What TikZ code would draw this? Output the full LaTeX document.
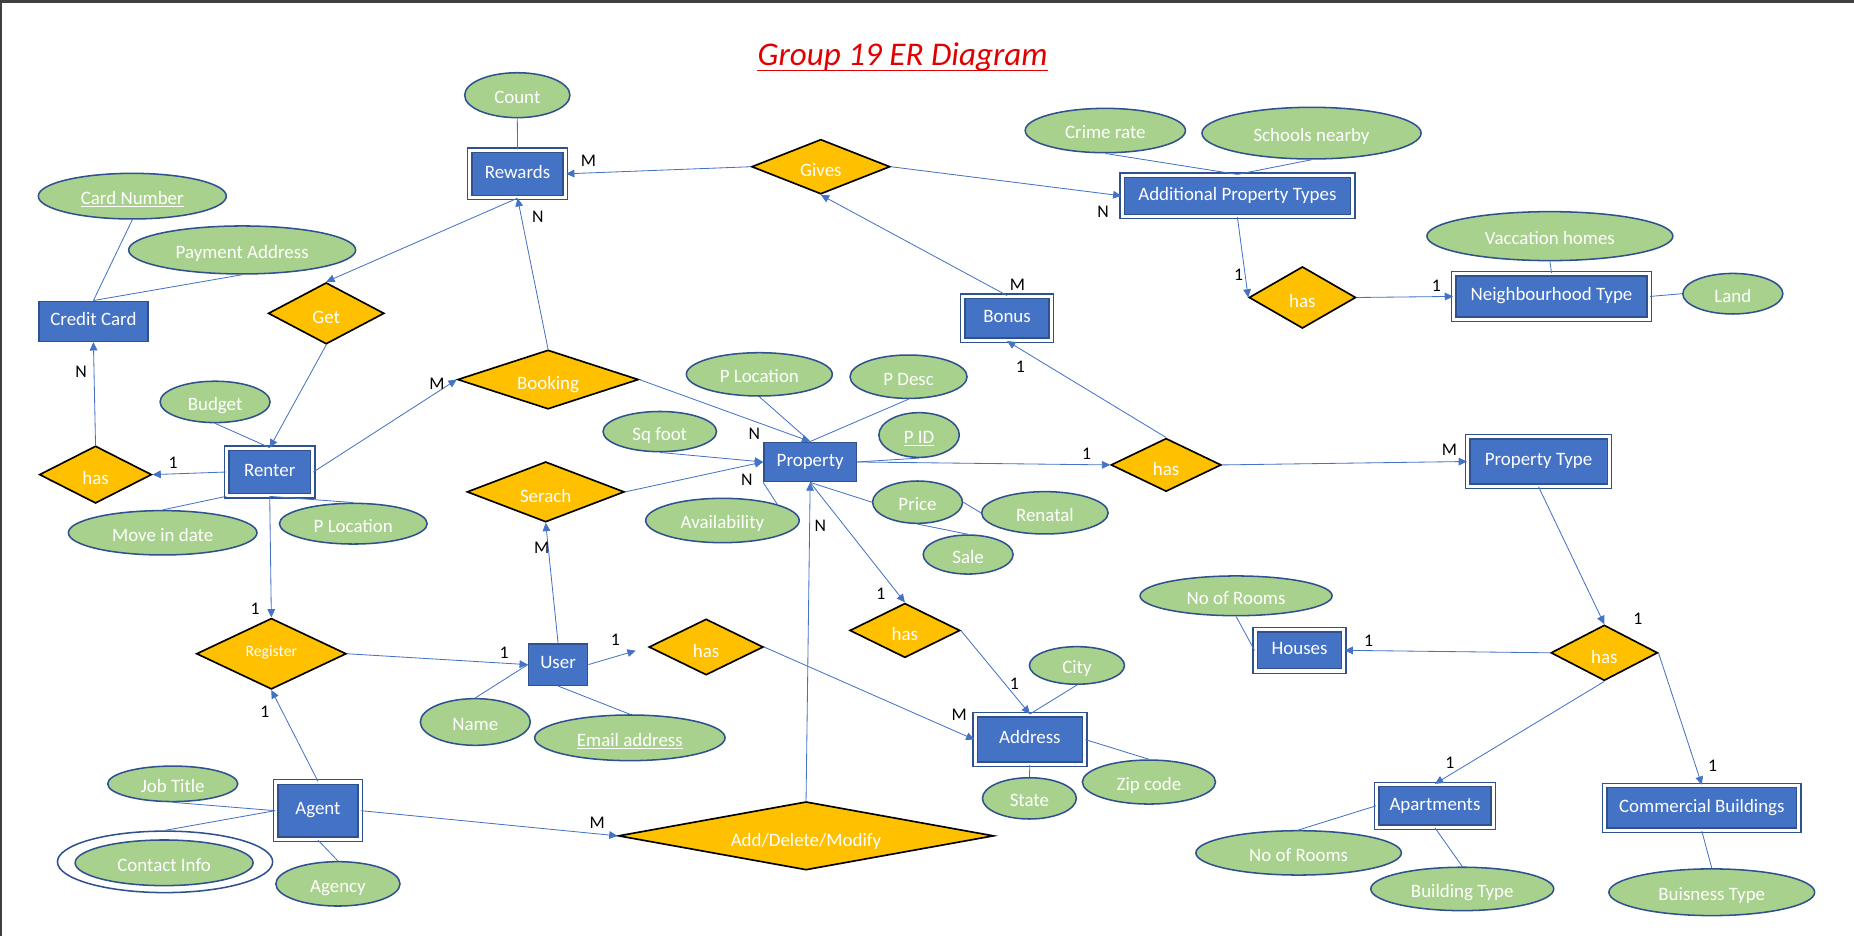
\documentclass[tikz,border=0pt]{standalone}
\usepackage{fontspec}
\setmainfont{Carlito}
\usetikzlibrary{shapes.geometric,arrows.meta}

\definecolor{entblue}{HTML}{4472C4}
\definecolor{edgeblue}{HTML}{2F528F}
\definecolor{attrgreen}{HTML}{A9D18E}
\definecolor{relgold}{HTML}{FFC000}
\definecolor{titlered}{HTML}{E00000}

\begin{document}
\begin{tikzpicture}[x=1pt,y=-1pt,
  entity/.style={rectangle, fill=entblue, draw=edgeblue, line width=1.2pt, text=white, inner sep=1pt, text height=10.3pt, text depth=3pt, font=\fontsize{16}{19}\selectfont},
  weak/.style={entity, double=white, double distance=2.6pt},
  attr/.style={ellipse, fill=attrgreen, draw=edgeblue, line width=1.3pt, text=white, inner sep=1pt, text height=14.3pt, text depth=0pt, font=\fontsize{16}{19}\selectfont},
  rel/.style={diamond, aspect=2.5, fill=relgold, draw=black, line width=1.4pt, text=white, inner sep=0pt, text height=17.3pt, text depth=0pt, font=\fontsize{16}{19}\selectfont},
  link/.style={draw=entblue, line width=0.7pt},
  arr/.style={link, -{Triangle[length=7pt,width=6.5pt]}},
  card/.style={font=\fontsize{15}{18}\selectfont, inner sep=0pt}
]

\useasboundingbox (0,0) rectangle (1568,792);

% Sheet edges
\fill[black!75] (0,0) rectangle (1568,2.4);
\fill[black!75] (0,0) rectangle (1.4,792);

% Title
\node[text=titlered, inner sep=0pt, anchor=base, font=\fontsize{28}{32}\selectfont\itshape] (title) at (763.4,55.5) {Group 19 ER Diagram};
\draw[titlered, line width=1.2pt] ([yshift=-4pt]title.base west) -- ([yshift=-4pt]title.base east);

% Entities
\node[weak, minimum width=81pt, minimum height=40pt] (rew) at (437.7,147) {Rewards};
\node[entity, minimum width=92pt, minimum height=34pt] (cc) at (79,271.8) {Credit Card};
\node[weak, minimum width=72.6pt, minimum height=40pt] (rent) at (228.1,399.2) {Renter};
\node[entity, minimum width=50pt, minimum height=35pt] (usr) at (472,562.1) {User};
\node[weak, minimum width=71.3pt, minimum height=48.5pt] (agt) at (268.9,685.6) {Agent};
\node[entity, minimum width=78.4pt, minimum height=33.4pt] (prop) at (685.2,390.7) {Property};
\node[weak, minimum width=74.6pt, minimum height=37.3pt] (bon) at (851.7,269.2) {Bonus};
\node[weak, minimum width=195pt, minimum height=35pt] (addl) at (1046.5,165.6) {Additional Property Types};
\node[weak, minimum width=165.5pt, minimum height=38.7pt] (nbh) at (1312.2,250.7) {Neighbourhood Type};
\node[weak, minimum width=120pt, minimum height=41.6pt] (ptype) at (1301.2,390.3) {Property Type};
\node[weak, minimum width=75pt, minimum height=35pt] (hous) at (1099.1,550) {Houses};
\node[weak, minimum width=92.7pt, minimum height=42pt] (addr) at (871,625.5) {Address};
\node[weak, minimum width=98.5pt, minimum height=36pt] (apt) at (1213.6,681.5) {Apartments};
\node[weak, minimum width=164pt, minimum height=38pt] (comm) at (1439.3,683.3) {Commercial Buildings};

% Relationships
\node[rel, minimum width=117pt, minimum height=46.3pt] (gives) at (694.2,141) {Gives};
\node[rel, minimum width=98pt, minimum height=52pt] (get) at (275.9,265) {Get};
\node[rel, minimum width=153pt, minimum height=50pt] (book) at (463.5,321) {Booking};
\node[rel, minimum width=95pt, minimum height=48.5pt] (hasc) at (80.8,401.4) {has};
\node[rel, minimum width=133pt, minimum height=51pt] (srch) at (461.5,416) {Serach};
\node[rel, minimum width=126.7pt, minimum height=60pt, text height=7.6pt, text depth=3pt, font=\fontsize{13.3}{16}\selectfont] (reg) at (229.5,552.9) {Register};
\node[rel, minimum width=96.7pt, minimum height=47.4pt] (hasu) at (597.2,547.2) {has};
\node[rel, aspect=5, minimum width=317.5pt, minimum height=57.8pt] (adm) at (681.7,706.9) {Add/Delete/Modify};
\node[rel, minimum width=93.2pt, minimum height=46pt] (hasa) at (765.3,533.2) {has};
\node[rel, minimum width=93.2pt, minimum height=45pt] (hasb) at (986.2,393.2) {has};
\node[rel, minimum width=90.3pt, minimum height=52.2pt] (hasn) at (1101.5,251.6) {has};
\node[rel, minimum width=90.2pt, minimum height=47pt] (hast) at (1356.8,552.1) {has};

% Attributes
\node[attr, minimum width=89pt, minimum height=38pt] (cnt) at (437.5,80.5) {Count};
\node[attr, minimum width=159pt, minimum height=38.6pt] (cnum) at (111.9,165.9) {\underline{Card Number}};
\node[attr, minimum width=192pt, minimum height=40.6pt] (pay) at (204.8,211.4) {Payment Address};
\node[attr, minimum width=93pt, minimum height=35pt] (bud) at (181.9,339.9) {Budget};
\node[attr, minimum width=159.5pt, minimum height=37.5pt] (mvd) at (137.6,450.6) {Move in date};
\node[attr, minimum width=125pt, minimum height=34.4pt] (rloc) at (298.8,442.9) {P Location};
\node[attr, minimum width=93pt, minimum height=39.5pt] (nam) at (402,610.6) {Name};
\node[attr, minimum width=161pt, minimum height=38.6pt] (eml) at (532.7,624) {\underline{Email address}};
\node[attr, minimum width=110pt, minimum height=30pt] (job) at (146.1,662.9) {Job Title};
\node[ellipse, draw=edgeblue, line width=1.3pt, minimum width=182pt, minimum height=52pt] (conto) at (139.6,728.9) {};
\node[attr, minimum width=150.5pt, minimum height=38.6pt] (cont) at (138.8,729.7) {Contact Info};
\node[attr, minimum width=105pt, minimum height=37.5pt] (agcy) at (285.8,747.5) {Agency};
\node[attr, minimum width=135.5pt, minimum height=37.5pt] (crim) at (934.8,110.4) {Crime rate};
\node[attr, minimum width=185.3pt, minimum height=43.7pt] (schl) at (1109.2,112.6) {Schools nearby};
\node[attr, minimum width=208pt, minimum height=41.4pt] (vac) at (1310.8,199.7) {Vaccation homes};
\node[attr, minimum width=84.6pt, minimum height=34.3pt] (land) at (1465.5,248.4) {Land};
\node[attr, minimum width=123.4pt, minimum height=36.6pt] (ploc) at (642.2,316.6) {P Location};
\node[attr, minimum width=99pt, minimum height=36.7pt] (pdsc) at (768.4,318.6) {P Desc};
\node[attr, minimum width=96pt, minimum height=34pt] (sqft) at (558,365) {Sq foot};
\node[attr, minimum width=68pt, minimum height=37.8pt] (pid) at (777.3,367.9) {\underline{P ID}};
\node[attr, minimum width=129.8pt, minimum height=37.5pt] (avl) at (611,440.2) {Availability};
\node[attr, minimum width=76pt, minimum height=35.8pt] (prc) at (776,424.7) {Price};
\node[attr, minimum width=107pt, minimum height=35.8pt] (rntl) at (883.7,433.7) {Renatal};
\node[attr, minimum width=76pt, minimum height=33pt] (sale) at (818.8,469) {Sale};
\node[attr, minimum width=80.4pt, minimum height=31.8pt] (city) at (910.8,562.8) {City};
\node[attr, minimum width=112.6pt, minimum height=37.2pt] (zip) at (971.7,661.4) {Zip code};
\node[attr, minimum width=79.4pt, minimum height=34.9pt] (stat) at (870.6,675.2) {State};
\node[attr, minimum width=162.4pt, minimum height=33.6pt] (hrm) at (1045.4,503.9) {No of Rooms};
\node[attr, minimum width=173.8pt, minimum height=37.5pt] (arm) at (1098.3,721.3) {No of Rooms};
\node[attr, minimum width=154.7pt, minimum height=36.7pt] (bld) at (1236.7,751.8) {Building Type};
\node[attr, minimum width=174pt, minimum height=39.5pt] (bus) at (1447.7,754.6) {Buisness Type};

% Attribute lines
\draw[link] (cnt.south) -- (rew.north);
\draw[link] (cnum.south) -- (cc.north);
\draw[link] (pay.south) -- (cc.north);
\draw[link] (bud.south) -- (rent.north);
\draw[link] (mvd.north) -- (rent.south west);
\draw[link] (rloc.north) -- (rent.south);
\draw[link] (nam.north) -- (usr.west);
\draw[link] (eml.north) -- (usr.south);
\draw[link] (job.south) -- (agt.west);
\draw[link] (conto.north) -- (agt.west);
\draw[link] (agt.south) -- (agcy.north);
\draw[link] (crim.south) -- (addl.north);
\draw[link] (schl.south) -- (addl.north);
\draw[link] (vac.south) -- (nbh.north);
\draw[link] (land.west) -- (nbh.east);
\draw[link] (ploc.south) -- (prop.north);
\draw[link] (pdsc.south) -- (prop.north);
\draw[link] (prop.east) -- (pid.south);
\draw[link] (avl.north east) -- (prop.south west);
\draw[link] (prc.west) -- (prop.south);
\draw[link] (prc.east) -- (rntl.west);
\draw[link] (prc.south) -- (sale.north);
\draw[link] (city.south) -- (addr.north);
\draw[link] (addr.east) -- (zip.north);
\draw[link] (addr.south) -- (stat.north);
\draw[link] (hrm.south) -- (hous.west);
\draw[link] (arm.north) -- (apt.west);
\draw[link] (apt.south) -- (bld.north);
\draw[link] (comm.south) -- (bus.north);
\draw[arr] (sqft.south) -- (prop.west);

% Relationship connectors
\draw[arr] (book.north) -- (rew.south);
\draw[arr] (gives.west) -- (rew.east);
\draw[arr] (rew.south) -- (get.north);
\draw[arr] (get.south) -- (rent.north);
\draw[arr] (gives.east) -- (addl.west);
\draw[arr] (bon.north) -- (gives.south);
\draw[arr] (addl.south) -- (hasn.west);
\draw[arr] (hasn.east) -- (nbh.west);
\draw[arr] (hasc.north) -- (cc.south);
\draw[arr] (rent.west) -- (hasc.east);
\draw[arr] (rent.east) -- (book.west);
\draw[arr] (book.east) -- (prop.north);
\draw[arr] (srch.east) -- (prop.west);
\draw[arr] (usr.north) -- (srch.south);
\draw[arr] (rent.south) -- (reg.north);
\draw[arr] (reg.east) -- (usr.west);
\draw[arr] (agt.north) -- (reg.south);
\draw[arr] (agt.east) -- (adm.west);
\draw[arr] (adm.north) -- (prop.south);
\draw[arr, shorten >=11pt] (usr.east) -- (hasu.west);
\draw[arr] (hasu.east) -- (addr.west);
\draw[arr] (prop.south) -- (hasa.north);
\draw[arr] (hasa.east) -- (addr.north);
\draw[arr] (prop.east) -- (hasb.west);
\draw[arr] (hasb.north) -- (bon.south);
\draw[arr] (hasb.east) -- (ptype.west);
\draw[arr] (ptype.south) -- (hast.north);
\draw[arr] (hast.west) -- (hous.east);
\draw[arr] (hast.south) -- (apt.north);
\draw[arr] (hast.east) -- (comm.north);

% Cardinalities
\node[card] (c1) at (454.8,183.2) {N};
\node[card] (c2) at (497.6,135.9) {M};
\node[card] (c3) at (933,179) {N};
\node[card] (c4) at (860.4,241) {M};
\node[card] (c5) at (1047.6,232.6) {1};
\node[card] (c6) at (1214.8,241.9) {1};
\node[card] (c7) at (68.6,314.3) {N};
\node[card] (c8) at (146.5,391.8) {1};
\node[card] (c9) at (369.5,324.2) {M};
\node[card] (c10) at (638,367.3) {N};
\node[card] (c11) at (631.7,406) {N};
\node[card] (c12) at (458.1,463.7) {M};
\node[card] (c13) at (215.7,514.5) {1};
\node[card] (c14) at (426.4,551.7) {1};
\node[card] (c15) at (224,601.9) {1};
\node[card] (c16) at (505,695.7) {M};
\node[card] (c17) at (693.8,444.8) {N};
\node[card] (c18) at (520.5,541.3) {1};
\node[card] (c19) at (811.2,604.7) {M};
\node[card] (c20) at (745,502.4) {1};
\node[card] (c21) at (857.8,577.9) {1};
\node[card] (c22) at (918.9,383.4) {1};
\node[card] (c23) at (863,310) {1};
\node[card] (c24) at (1225.8,380) {M};
\node[card] (c25) at (1385.2,523) {1};
\node[card] (c26) at (1157.5,541.8) {1};
\node[card] (c27) at (1226.2,645) {1};
\node[card] (c28) at (1448.4,647.5) {1};

\end{tikzpicture}
\end{document}
